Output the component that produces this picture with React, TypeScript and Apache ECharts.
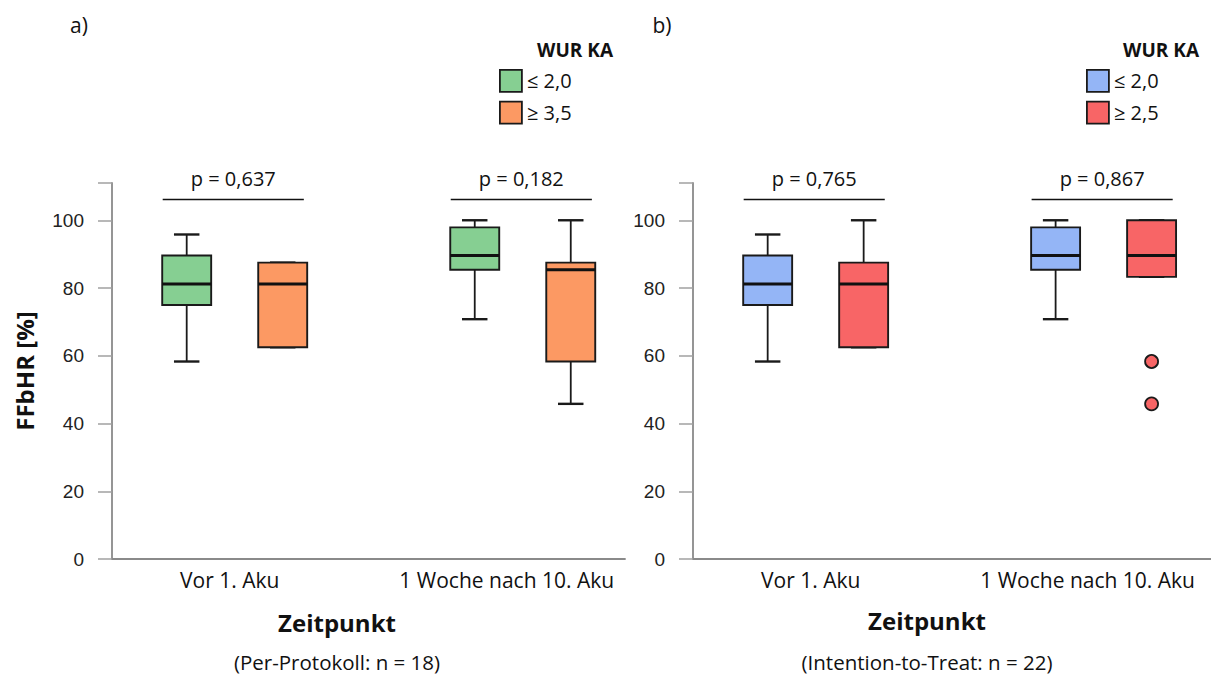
import React, { useEffect, useRef } from "react";
import * as echarts from "echarts";

// ---------- data ----------
const categories = ["Vor 1. Aku", "1 Woche nach 10. Aku"];
// each box: [min, Q1, median, Q3, max]
const ppLow = [
  [58.3, 75.0, 81.2, 89.6, 95.8],
  [70.8, 85.4, 89.6, 97.9, 100],
];
const ppHigh = [
  [62.5, 62.5, 81.2, 87.5, 87.5],
  [45.8, 58.3, 85.4, 87.5, 100],
];
const ittLow = [
  [58.3, 75.0, 81.2, 89.6, 95.8],
  [70.8, 85.4, 89.6, 97.9, 100],
];
const ittHigh = [
  [62.5, 62.5, 81.2, 87.5, 100],
  [83.3, 83.3, 89.6, 100, 100],
];
// outliers of ittHigh: [categoryIndex, value]
const ittHighOutliers = [
  [1, 58.3],
  [1, 45.8],
];
const ppPValues = ["0,637", "0,182"];
const ittPValues = ["0,765", "0,867"];
const ppLegend = ["≤ 2,0", "≥ 3,5"];
const ittLegend = ["≤ 2,0", "≥ 2,5"];
const yTicks = [0, 20, 40, 60, 80, 100];

// ---------- styles ----------
const GREEN = "#86CF92";
const ORANGE = "#FC9963";
const BLUE = "#94B5F6";
const RED = "#F86566";
const EDGE = "#1a1a1a";
const AXIS = "#8a8a8a";
const SANS = "'Open Sans', sans-serif";
const NUM = "'Liberation Sans', Arial, sans-serif";
const OFFSET = 1 / 6;
const BOX_W = 0.17;
const BRACKET_Y = 106.3;

const makeRender = (color: string) => (params: any, api: any) => {
  const x = api.value(0);
  const c = (v: number) => api.coord([x, v]);
  const [xc, yMin] = c(api.value(1));
  const yQ1 = c(api.value(2))[1];
  const yMed = c(api.value(3))[1];
  const yQ3 = c(api.value(4))[1];
  const yMax = c(api.value(5))[1];
  const w = api.size([BOX_W, 0])[0];
  const cap = w * 0.26;
  const ls = { stroke: EDGE, lineWidth: 1.8 };
  return {
    type: "group",
    children: [
      { type: "line", shape: { x1: xc, y1: yQ1, x2: xc, y2: yMin }, style: ls },
      { type: "line", shape: { x1: xc, y1: yQ3, x2: xc, y2: yMax }, style: ls },
      { type: "line", shape: { x1: xc - cap, y1: yMin, x2: xc + cap, y2: yMin }, style: { stroke: EDGE, lineWidth: 2.4 } },
      { type: "line", shape: { x1: xc - cap, y1: yMax, x2: xc + cap, y2: yMax }, style: { stroke: EDGE, lineWidth: 2.4 } },
      {
        type: "rect",
        shape: { x: xc - w / 2, y: yQ3, width: w, height: Math.max(yQ1 - yQ3, 0) },
        style: { fill: color, stroke: EDGE, lineWidth: 1.9 },
      },
      { type: "line", shape: { x1: xc - w / 2, y1: yMed, x2: xc + w / 2, y2: yMed }, style: { stroke: "#111", lineWidth: 3 } },
    ],
  };
};

const boxData = (boxes: number[][], shift: number) =>
  boxes.map((b, i) => [i + 1 + shift, ...b]);

const boxSeries = (name: string, boxes: number[][], shift: number, color: string, gi: number) => ({
  type: "custom",
  name,
  xAxisIndex: gi,
  yAxisIndex: gi,
  itemStyle: { color },
  encode: { x: 0, y: [1, 2, 3, 4, 5] },
  renderItem: makeRender(color),
  data: boxData(boxes, shift),
  silent: true,
});

const bracketSeries = (pvals: string[], gi: number) => ({
  type: "scatter",
  name: "p" + gi,
  xAxisIndex: gi,
  yAxisIndex: gi,
  data: [],
  silent: true,
  markLine: {
    symbol: "none",
    silent: true,
    animation: false,
    lineStyle: { color: "#111", width: 1.3, type: "solid" },
    label: {
      show: true,
      position: "middle",
      distance: 10,
      color: "#111",
      fontSize: 20,
      fontFamily: SANS,
    },
    data: pvals.map((p, i) => [
      { coord: [i + 1 - 0.25, BRACKET_Y], label: { formatter: "p = " + p } },
      { coord: [i + 1 + 0.24, BRACKET_Y] },
    ]),
  },
});

const xAxisCfg = (gi: number, max: number) => ({
  type: "value",
  gridIndex: gi,
  min: 0.574,
  max,
  splitLine: { show: false },
  axisTick: { show: false },
  axisLine: { show: true, lineStyle: { color: AXIS, width: 1.8 } },
  axisLabel: {
    customValues: [1, 2],
    margin: 10,
    formatter: (v: number) => (Math.round(v) === 1 ? "{a|" : "{b|") + categories[Math.round(v) - 1] + "}",
    rich: {
      a: { fontSize: 21, fontFamily: SANS, color: "#111", padding: [0, 10, 0, 0] },
      b: { fontSize: 21, fontFamily: SANS, color: "#111", padding: [0, 32, 0, 0] },
    },
  },
});

const yAxisCfg = (gi: number, withName: boolean) => ({
  type: "value",
  gridIndex: gi,
  min: 0,
  max: 111,
  interval: 20,
  splitLine: { show: false },
  axisLine: { show: true, lineStyle: { color: AXIS, width: 1.8 } },
  axisTick: { show: true, length: 14, lineStyle: { color: "#a0a0a0", width: 1.5 } },
  axisLabel: {
    margin: 28,
    fontSize: 19,
    fontFamily: NUM,
    color: "#222",
    formatter: (v: number) => (yTicks.includes(v) ? String(v) : ""),
  },
  name: withName ? "FFbHR [%]" : "",
  nameLocation: "middle",
  nameGap: 76,
  nameTextStyle: { fontSize: 24, fontWeight: "bold", fontFamily: SANS, color: "#111" },
});

const legendCfg = (names: string[], colors: string[], left: number) => ({
  orient: "vertical",
  left,
  top: 69,
  padding: 0,
  icon: "rect",
  itemWidth: 22,
  itemHeight: 22,
  itemGap: 8,
  selectedMode: false,
  textStyle: { fontSize: 20, fontFamily: SANS, color: "#111", padding: [0, 0, 0, 0] },
  data: names.map((n, i) => ({
    name: n,
    itemStyle: { color: colors[i], borderColor: EDGE, borderWidth: 1.8 },
  })),
});

const txt = (text: string, x: number, y: number, size: number, bold = false, align = "center") => ({
  type: "text",
  x,
  y,
  silent: true,
  style: {
    text,
    fontSize: size,
    fontWeight: bold ? "bold" : "normal",
    fontFamily: SANS,
    fill: "#111",
    textAlign: align,
    textVerticalAlign: "middle",
  },
});

export default function App() {
  const ref = useRef<HTMLDivElement>(null);
  useEffect(() => {
    document.body.style.margin = "0";
    if (!ref.current) return;
    const chart = echarts.init(ref.current, null, { renderer: "svg" });
    const option: any = {
      animation: false,
      backgroundColor: "#ffffff",
      grid: [
        { left: 112, top: 183, width: 513, height: 376, outerBoundsMode: "none", containLabel: false },
        { left: 693, top: 183, width: 518, height: 376, outerBoundsMode: "none", containLabel: false },
      ],
      xAxis: [xAxisCfg(0, 2.355), xAxisCfg(1, 2.373)],
      yAxis: [yAxisCfg(0, true), yAxisCfg(1, false)],
      legend: [legendCfg(ppLegend, [GREEN, ORANGE], 499), legendCfg(ittLegend, [BLUE, RED], 1086)],
      series: [
        boxSeries(ppLegend[0], ppLow, -OFFSET, GREEN, 0),
        boxSeries(ppLegend[1], ppHigh, OFFSET, ORANGE, 0),
        boxSeries(ittLegend[0], ittLow, -OFFSET, BLUE, 1),
        boxSeries(ittLegend[1], ittHigh, OFFSET, RED, 1),
        {
          type: "scatter",
          name: "Ausreißer",
          xAxisIndex: 1,
          yAxisIndex: 1,
          symbol: "circle",
          symbolSize: 13,
          itemStyle: { color: RED, borderColor: EDGE, borderWidth: 1.8, opacity: 1 },
          data: ittHighOutliers.map(([ci, v]) => [ci + 1 + OFFSET, v]),
          silent: true,
        },
        bracketSeries(ppPValues, 0),
        bracketSeries(ittPValues, 1),
      ],
      graphic: [
        txt("a)", 79, 25, 21),
        txt("b)", 662, 25, 21),
        txt("WUR KA", 613, 50, 19, true, "right"),
        txt("WUR KA", 1199, 50, 19, true, "right"),
        txt("Zeitpunkt", 337, 622, 24, true),
        txt("Zeitpunkt", 927, 620, 24, true),
        txt("(Per-Protokoll: n = 18)", 337, 662, 20.5),
        txt("(Intention-to-Treat: n = 22)", 927, 662, 20.5),
      ],
    };
    chart.setOption(option);
    return () => chart.dispose();
  }, []);
  return <div ref={ref} style={{ width: 1211, height: 677 }} />;
}
